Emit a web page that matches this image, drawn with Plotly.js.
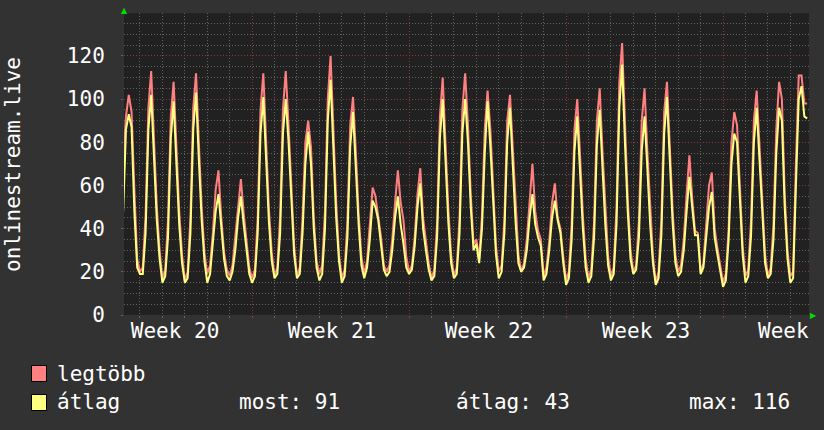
<!DOCTYPE html>
<html>
<head>
<meta charset="utf-8">
<script src="https://cdn.plot.ly/plotly-3.0.1.min.js"></script>
<style>
  html, body { margin: 0; padding: 0; background: #323232; }
  #chart { width: 824px; height: 430px; }
</style>
</head>
<body>
<div id="chart"></div>
<script>
// ---- data ----
// samples every 3 hours; hour 0 = first day grid line after the left edge
const startHour = -18;
const stepHours = 3;

// "legtöbb" (maximum) series
const maxVals = [
  70, 92, 102, 94, 58, 26,
  20, 22, 46, 96, 113, 80, 50, 30,
  17, 21, 44, 92, 108, 78, 48, 28,
  16, 20, 45, 96, 112, 80, 50, 29,
  19, 23, 38, 58, 67, 45, 29, 21,
  18, 23, 36, 52, 63, 47, 33, 22,
  17, 21, 45, 95, 112, 79, 49, 29,
  18, 22, 46, 95, 113, 88, 62, 32,
  18, 22, 45, 80, 90, 78, 45, 25,
  19, 23, 48, 100, 120, 85, 52, 28,
  17, 21, 43, 88, 101, 76, 47, 27,
  19, 25, 42, 59, 55, 46, 36, 23,
  20, 23, 35, 52, 67, 52, 44, 27,
  20, 23, 36, 56, 68, 45, 34, 24,
  17, 21, 43, 92, 110, 80, 49, 28,
  18, 22, 45, 95, 112, 88, 56, 33,
  35, 26, 46, 86, 104, 86, 56, 32,
  20, 23, 44, 90, 102, 77, 49, 28,
  20, 24, 35, 55, 70, 48, 39, 35,
  18, 22, 34, 52, 61, 45, 40, 27,
  16, 20, 42, 86, 100, 74, 46, 26,
  17, 21, 43, 90, 105, 76, 48, 27,
  18, 22, 50, 108, 126, 88, 54, 30,
  20, 23, 44, 90, 105, 76, 48, 27,
  15, 20, 44, 94, 108, 79, 49, 28,
  20, 23, 35, 56, 74, 54, 39, 38,
  20, 24, 40, 60, 66, 40, 31, 22,
  15, 19, 40, 80, 94, 88, 62, 32,
  18, 21, 44, 90, 104, 78, 49, 28,
  18, 22, 42, 86, 108, 100, 56, 30,
  18, 20, 70, 111, 111, 98, 98
];

// "átlag" (average) series
const avgVals = [
  48, 86, 93, 87, 48, 22,
  19, 19, 38, 86, 102, 72, 44, 26,
  15, 18, 36, 82, 99, 70, 42, 24,
  15, 17, 38, 86, 103, 72, 44, 25,
  15, 19, 32, 48, 56, 40, 26, 18,
  16, 20, 30, 45, 55, 42, 30, 19,
  15, 18, 38, 84, 101, 71, 43, 25,
  17, 19, 38, 84, 100, 80, 55, 28,
  17, 19, 38, 70, 85, 70, 40, 22,
  16, 19, 40, 90, 109, 76, 45, 25,
  15, 18, 36, 78, 94, 68, 42, 23,
  17, 22, 35, 53, 50, 44, 33, 21,
  18, 20, 30, 45, 55, 42, 33, 22,
  19, 21, 32, 50, 61, 40, 30, 21,
  16, 18, 36, 82, 100, 72, 43, 24,
  17, 19, 38, 84, 100, 80, 50, 30,
  33, 24, 40, 75, 99, 78, 50, 28,
  17, 20, 38, 80, 96, 70, 43, 24,
  20, 22, 30, 45, 56, 42, 36, 32,
  16, 19, 30, 45, 53, 44, 38, 24,
  14, 17, 35, 76, 92, 66, 40, 22,
  15, 18, 36, 79, 95, 68, 42, 23,
  16, 19, 42, 96, 116, 80, 48, 26,
  19, 21, 36, 76, 92, 68, 42, 24,
  14, 17, 37, 84, 101, 72, 43, 24,
  18, 20, 30, 48, 64, 50, 37, 37,
  19, 22, 35, 50, 57, 36, 28, 20,
  13, 16, 35, 70, 84, 80, 55, 28,
  15, 18, 37, 80, 96, 70, 43, 24,
  17, 19, 35, 75, 96, 90, 50, 26,
  15, 17, 60, 100, 106, 92, 91
];

// tick labels as they appear (the last one is truncated at the right edge in the reference)
const weekLabels = ['Week 20', 'Week 21', 'Week 22', 'Week 23', 'Week'];
const weekLabelHours = [37.5, 205.5, 373.5, 541.5, 688.5];
const weekStartHour = 120;

const seriesNames = ['legtöbb', 'átlag'];
const statLabels = ['most', 'átlag', 'max'];
const statValues = [91, 43, 116];
const yTitle = 'onlinestream.live';

// ---- chart ----
const hours = avgVals.map((_, i) => startHour + i * stepHours);
const FONT = 'DejaVu Sans Mono, monospace';
const RED = '#ff8080', YEL = '#ffff80';
const GRID_MINOR = '#626262', GRID_MAJOR = '#8c3838';

// pixel helpers for decoration placed outside the plot
const PL = 124, PR = 809, PT = 13, PB = 315;
const px = v => (v - PL) / (PR - PL);
const py = v => (PB - v) / (PB - PT);

const xRange = [-17.1, 716];

const traces = [
  { x: hours, y: maxVals, mode: 'lines', line: { color: RED, width: 2 }, hoverinfo: 'skip', showlegend: false },
  { x: hours, y: avgVals, mode: 'lines', line: { color: YEL, width: 2 }, hoverinfo: 'skip', showlegend: false },
  { x: [], y: [], xaxis: 'x2', yaxis: 'y', mode: 'lines', showlegend: false, hoverinfo: 'skip' }
];

const dotted = '1px,2px';
const annotations = [
  { xref: 'paper', yref: 'paper', x: px(13), y: py(164), text: yTitle, textangle: -90,
    showarrow: false, xanchor: 'center', yanchor: 'middle', font: { family: FONT, size: 21, color: '#ffffff' } },
  { xref: 'paper', yref: 'paper', x: px(124.7), y: py(10.5), text: '▲', showarrow: false,
    xanchor: 'center', yanchor: 'middle', font: { family: 'DejaVu Sans', size: 8, color: '#00dd00' } },
  { xref: 'paper', yref: 'paper', x: px(813.5), y: py(315), text: '▶', showarrow: false,
    xanchor: 'center', yanchor: 'middle', font: { family: 'DejaVu Sans', size: 8, color: '#00dd00' } },
  { xref: 'paper', yref: 'paper', x: px(55), y: py(373.5), text: seriesNames[0], showarrow: false,
    xanchor: 'left', yanchor: 'middle', font: { family: FONT, size: 21, color: '#ffffff' } },
  { xref: 'paper', yref: 'paper', x: px(55), y: py(401.5), text: seriesNames[1], showarrow: false,
    xanchor: 'left', yanchor: 'middle', font: { family: FONT, size: 21, color: '#ffffff' } }
];
const statX = [237, 454, 687];
statLabels.forEach((lab, i) => {
  annotations.push({ xref: 'paper', yref: 'paper', x: px(statX[i]), y: py(401.5),
    text: lab + ': ' + statValues[i], showarrow: false, xanchor: 'left', yanchor: 'middle',
    font: { family: FONT, size: 21, color: '#ffffff' } });
});

const shapes = [
  { type: 'rect', xref: 'paper', yref: 'paper', x0: px(31.5), x1: px(46.5), y0: py(365.5), y1: py(381.5),
    fillcolor: RED, line: { color: '#000000', width: 1 } },
  { type: 'rect', xref: 'paper', yref: 'paper', x0: px(31.5), x1: px(46.5), y0: py(394.5), y1: py(410.5),
    fillcolor: YEL, line: { color: '#000000', width: 1 } }
];

const layout = {
  width: 824, height: 430,
  margin: { l: PL, r: 824 - PR, t: PT, b: 430 - PB, pad: 0 },
  paper_bgcolor: '#323232',
  plot_bgcolor: '#212121',
  showlegend: false,
  xaxis: {
    range: xRange, tickmode: 'array', tickvals: weekLabelHours, ticktext: weekLabels,
    showgrid: false, zeroline: false, showline: false, ticks: '',
    tickfont: { family: FONT, size: 21, color: '#ffffff' }, ticklabelstandoff: 1,
    ticklabeloverflow: 'allow',
    automargin: false, fixedrange: true,
    minor: { tickmode: 'linear', tick0: 0, dtick: 24, showgrid: true, gridcolor: GRID_MINOR,
      griddash: dotted, gridwidth: 1, ticks: 'outside', ticklen: 2, tickcolor: '#666666' }
  },
  xaxis2: {
    overlaying: 'x', anchor: 'y', side: 'bottom', range: xRange, tickmode: 'linear',
    tick0: weekStartHour, dtick: 168, showgrid: true, gridcolor: GRID_MAJOR, griddash: dotted,
    gridwidth: 1, showticklabels: false, ticks: 'outside', ticklen: 2, tickcolor: '#a03a3a',
    zeroline: false, showline: false, fixedrange: true
  },
  yaxis: {
    range: [0, 139.9], tickmode: 'linear', tick0: 0, dtick: 20,
    showgrid: true, gridcolor: GRID_MAJOR, griddash: dotted, gridwidth: 1,
    zeroline: false, showline: false, ticks: 'outside', ticklen: 2, tickcolor: '#666666',
    tickfont: { family: FONT, size: 21, color: '#ffffff' }, ticklabelstandoff: 12,
    automargin: false, fixedrange: true,
    minor: { tickmode: 'linear', tick0: 0, dtick: 5, showgrid: true, gridcolor: GRID_MINOR,
      griddash: dotted, gridwidth: 1 }
  },
  annotations: annotations,
  shapes: shapes
};

Plotly.newPlot('chart', traces, layout, { displayModeBar: false, staticPlot: true });
</script>
</body>
</html>
